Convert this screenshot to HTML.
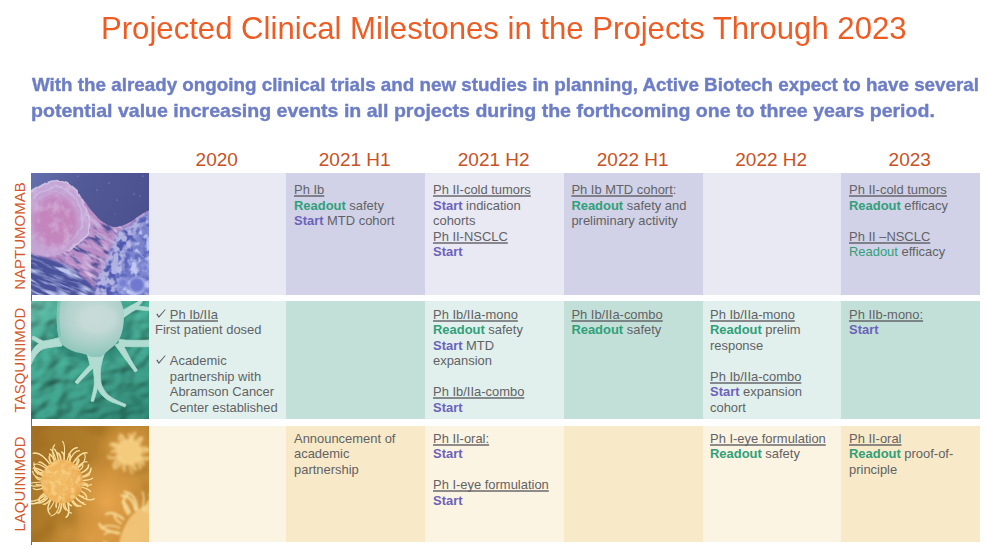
<!DOCTYPE html>
<html>
<head>
<meta charset="utf-8">
<title>Projected Clinical Milestones</title>
<style>
html,body{margin:0;padding:0;background:#fff;}
body{width:989px;height:549px;position:relative;overflow:hidden;font-family:"Liberation Sans",sans-serif;}
.abs{position:absolute;}
#title{position:absolute;left:101px;top:8px;font-size:31.5px;line-height:40px;color:#ee5c24;white-space:nowrap;transform-origin:0 0;transform:scaleX(0.988);}
.sub{position:absolute;left:31px;font-size:19px;line-height:24px;font-weight:bold;color:#6d7ec5;-webkit-text-stroke:0.4px #6d7ec5;white-space:nowrap;transform-origin:0 0;}
#sub1{top:72.7px;left:31.6px;transform:scaleX(0.9898);}
#sub2{top:98.5px;transform:scaleX(1.029);}
.yr{position:absolute;top:148.6px;height:22px;line-height:22px;font-size:19px;margin-left:-0.8px;color:#c9511f;text-align:center;white-space:nowrap;}
.cell{position:absolute;box-sizing:border-box;padding:9px 4px 0 8px;font-size:12.95px;line-height:15.5px;color:#626266;}
.cell u{text-decoration:underline;text-decoration-thickness:2px;text-underline-offset:1px;text-decoration-skip-ink:none;text-decoration-color:rgba(85,85,90,0.66);}
.r{color:#2fa07a;font-weight:bold;}
.rn{color:#2fa07a;}
.s{color:#6c62bc;font-weight:bold;}
.lbl{position:absolute;font-size:15px;line-height:16px;color:#d2572a;white-space:nowrap;transform-origin:0 0;transform:rotate(-90deg);text-align:center;}
.chk{position:absolute;display:block;}
.img{position:absolute;left:31px;width:118px;overflow:hidden;}
.img svg{display:block;}
</style>
</head>
<body>
<div id="title">Projected Clinical Milestones in the Projects Through 2023</div>
<div class="sub" id="sub1">With the already ongoing clinical trials and new studies in planning, Active Biotech expect to have several</div>
<div class="sub" id="sub2">potential value increasing events in all projects during the forthcoming one to three years period.</div>

<!-- year headers -->
<div class="yr" style="left:149px;width:137px;">2020</div>
<div class="yr" style="left:286px;width:139px;">2021 H1</div>
<div class="yr" style="left:425px;width:139px;">2021 H2</div>
<div class="yr" style="left:564px;width:139px;">2022 H1</div>
<div class="yr" style="left:703px;width:138px;">2022 H2</div>
<div class="yr" style="left:841px;width:139px;">2023</div>

<!-- row labels -->
<div class="lbl" style="left:11.8px;top:297px;width:122px;">NAPTUMOMAB</div>
<div class="lbl" style="left:11.8px;top:419px;width:118px;">TASQUINIMOD</div>
<div class="lbl" style="left:11.8px;top:542px;width:116px;">LAQUINIMOD</div>

<!-- ROW 1 -->
<div class="cell" style="left:149px;top:173px;width:137px;height:122px;background:#e9e9f4;"></div>
<div class="cell" style="left:286px;top:173px;width:139px;height:122px;background:#d1d2e7;"><u>Ph Ib</u><br><span class="r">Readout</span> safety<br><span class="s">Start</span> MTD cohort</div>
<div class="cell" style="left:425px;top:173px;width:139px;height:122px;background:#e9e9f4;"><u>Ph II-cold tumors</u><br><span class="s">Start</span> indication<br>cohorts<br><u>Ph II-NSCLC</u><br><span class="s">Start</span></div>
<div class="cell" style="left:564px;top:173px;width:139px;height:122px;background:#d1d2e7;padding-left:7.4px;"><u>Ph Ib MTD cohort</u>:<br><span class="r">Readout</span> safety and<br>preliminary activity</div>
<div class="cell" style="left:703px;top:173px;width:138px;height:122px;background:#e9e9f4;padding-left:7px;"></div>
<div class="cell" style="left:841px;top:173px;width:139px;height:122px;background:#d1d2e7;"><u>Ph II-cold tumors</u><br><span class="r">Readout</span> efficacy<br><br><u>Ph II &ndash;NSCLC</u><br><span class="rn">Readout</span> efficacy</div>

<!-- ROW 2 -->
<div class="cell" style="left:149px;top:301px;width:137px;height:118px;background:#e1f0ec;padding-top:5.6px;padding-left:6px;"><svg class="chk" style="left:6.5px;top:7.6px;" width="10" height="10" viewBox="0 0 10 10"><path d="M0.3,5.3 L1.6,4.6 L2.8,7.3 L9.0,0.3 L9.6,0.8 L2.8,9.1 Z" fill="#5a5a60"/></svg><svg class="chk" style="left:6.5px;top:54.1px;" width="10" height="10" viewBox="0 0 10 10"><path d="M0.3,5.3 L1.6,4.6 L2.8,7.3 L9.0,0.3 L9.6,0.8 L2.8,9.1 Z" fill="#5a5a60"/></svg><span style="padding-left:14.8px;"><u>Ph Ib/IIa</u></span><br>First patient dosed<br><br><div style="padding-left:14.8px;">Academic<br>partnership with<br>Abramson Cancer<br>Center established</div></div>
<div class="cell" style="left:286px;top:301px;width:139px;height:118px;background:#c2e0d8;padding-top:5.6px;"></div>
<div class="cell" style="left:425px;top:301px;width:139px;height:118px;background:#e1f0ec;padding-top:5.6px;"><u>Ph Ib/IIa-mono</u><br><span class="r">Readout</span> safety<br><span class="s">Start</span> MTD<br>expansion<br><br><u>Ph Ib/IIa-combo</u><br><span class="s">Start</span></div>
<div class="cell" style="left:564px;top:301px;width:139px;height:118px;background:#c2e0d8;padding-top:5.6px;padding-left:7.4px;"><u>Ph Ib/IIa-combo</u><br><span class="r">Readout</span> safety</div>
<div class="cell" style="left:703px;top:301px;width:138px;height:118px;background:#e1f0ec;padding-top:5.6px;padding-left:7px;"><u>Ph Ib/IIa-mono</u><br><span class="r">Readout</span> prelim<br>response<br><br><u>Ph Ib/IIa-combo</u><br><span class="s">Start</span> expansion<br>cohort</div>
<div class="cell" style="left:841px;top:301px;width:139px;height:118px;background:#c2e0d8;padding-top:5.6px;"><u>Ph IIb-mono:</u><br><span class="s">Start</span></div>

<!-- ROW 3 -->
<div class="cell" style="left:149px;top:426px;width:137px;height:116px;background:#fcf4e2;padding-top:4.5px;"></div>
<div class="cell" style="left:286px;top:426px;width:139px;height:116px;background:#f8eac8;padding-top:4.5px;">Announcement of<br>academic<br>partnership</div>
<div class="cell" style="left:425px;top:426px;width:139px;height:116px;background:#fcf4e2;padding-top:4.5px;"><u>Ph II-oral:</u><br><span class="s">Start</span><br><br><u>Ph I-eye formulation</u><br><span class="s">Start</span></div>
<div class="cell" style="left:564px;top:426px;width:139px;height:116px;background:#f8eac8;padding-top:4.5px;padding-left:7.4px;"></div>
<div class="cell" style="left:703px;top:426px;width:138px;height:116px;background:#fcf4e2;padding-top:4.5px;padding-left:7px;"><u>Ph I-eye formulation</u><br><span class="r">Readout</span> safety</div>
<div class="cell" style="left:841px;top:426px;width:139px;height:116px;background:#f8eac8;padding-top:4.5px;"><u>Ph II-oral</u><br><span class="r">Readout</span> proof-of-<br>principle</div>

<!-- IMAGES -->
<div class="img" id="img1" style="top:173px;height:122px;background:#565c9c;"><svg width="118" height="122" viewBox="0 0 118 122">
<defs>
<linearGradient id="a1" x1="0" y1="0" x2="1" y2="0.5"><stop offset="0" stop-color="#6570ae"/><stop offset="0.35" stop-color="#535a98"/><stop offset="1" stop-color="#4a4f8c"/></linearGradient>
<filter color-interpolation-filters="sRGB" id="b1" x="-20%" y="-20%" width="140%" height="140%"><feGaussianBlur stdDeviation="0.8"/></filter>
<filter color-interpolation-filters="sRGB" id="b2" x="-30%" y="-30%" width="160%" height="160%"><feGaussianBlur stdDeviation="2"/></filter>
<filter color-interpolation-filters="sRGB" id="b3" x="-30%" y="-30%" width="160%" height="160%"><feGaussianBlur stdDeviation="3.5"/></filter>
<!-- light streaks -->
<filter color-interpolation-filters="sRGB" id="t1" x="0" y="0" width="100%" height="100%"><feTurbulence type="fractalNoise" baseFrequency="0.04 0.24" numOctaves="3" seed="4"/><feColorMatrix type="matrix" values="0 0 0 0 0.74  0 0 0 0 0.77  0 0 0 0 0.93  3.8 0 0 0 -1.78"/></filter>
<!-- lavender streaks on pink -->
<filter color-interpolation-filters="sRGB" id="t6" x="0" y="0" width="100%" height="100%"><feTurbulence type="fractalNoise" baseFrequency="0.05 0.22" numOctaves="3" seed="31"/><feColorMatrix type="matrix" values="0 0 0 0 0.84  0 0 0 0 0.76  0 0 0 0 0.90  0 3.6 0 0 -1.7"/></filter>
<!-- dark streaks -->
<filter color-interpolation-filters="sRGB" id="t5" x="0" y="0" width="100%" height="100%"><feTurbulence type="fractalNoise" baseFrequency="0.07 0.2" numOctaves="3" seed="14"/><feColorMatrix type="matrix" values="0 0 0 0 0.30  0 0 0 0 0.31  0 0 0 0 0.58  0 0 4.4 0 -2.15"/></filter>
<!-- dark blobs -->
<filter color-interpolation-filters="sRGB" id="t2" x="0" y="0" width="100%" height="100%"><feTurbulence type="fractalNoise" baseFrequency="0.16" numOctaves="2" seed="9"/><feColorMatrix type="matrix" values="0 0 0 0 0.31  0 0 0 0 0.35  0 0 0 0 0.70  0 5.0 0 0 -2.25"/></filter>
<filter color-interpolation-filters="sRGB" id="t7" x="0" y="0" width="100%" height="100%"><feTurbulence type="fractalNoise" baseFrequency="0.13" numOctaves="3" seed="44"/><feColorMatrix type="matrix" values="0 0 0 0 0.75  0 0 0 0 0.78  0 0 0 0 0.95  4.2 0 0 0 -1.95"/></filter>
<!-- ridges inside pink cell -->
<filter color-interpolation-filters="sRGB" id="t4" x="0" y="0" width="100%" height="100%"><feTurbulence type="fractalNoise" baseFrequency="0.1" numOctaves="3" seed="2"/><feColorMatrix type="matrix" values="0 0 0 0 0.84  0 0 0 0 0.74  0 0 0 0 0.89  0 2.8 0 0 -1.28"/></filter>
<filter color-interpolation-filters="sRGB" id="d1" x="-10%" y="-10%" width="120%" height="120%"><feTurbulence type="fractalNoise" baseFrequency="0.1" numOctaves="2" seed="5" result="n"/><feDisplacementMap in="SourceGraphic" in2="n" scale="4" xChannelSelector="R" yChannelSelector="G"/><feGaussianBlur stdDeviation="0.5"/></filter>
<clipPath id="c0"><path d="M0,50 L52,26 C57,33 62,40 68,46 C74,51 80,54.5 86,54 C93,53 100,49 106,44.5 C110,41.5 114,39 118,37.5 L118,122 L0,122Z"/></clipPath>
<clipPath id="c3"><path d="M0,19 C5,16 9,13 14,10.5 C18,8.5 22,7.5 26,7.5 C33,8 39,11.5 44.5,17 C49.5,23 53,30 56,38 C59,45 59.5,53 56,61 C52,68 44,73 36,78 C28,82 18,85 10,83 C6,82 3,80 0,78Z"/></clipPath>
<mask id="m1"><path d="M-4,79 C6,83 16,84 24,87.5 C36,92 48,100 58,109 C62,113 65,118 67,126 L-4,126Z" fill="#fff" filter="url(#b1)"/></mask>
<mask id="m2"><path d="M122,34 C112,40 106,46 100,51 C93,55 88,57 84,64 C80,74 77,84 72,94 C67,103 62,110 64,126 L122,126Z" fill="#fff" filter="url(#b2)"/></mask>
<mask id="m4"><rect width="118" height="122" fill="#555"/><path d="M40,40 L70,44 L90,60 L80,100 L60,115 L40,95 L30,80Z" fill="#fff" filter="url(#b3)"/></mask>
<mask id="m3"><path d="M122,30 L122,126 L84,126 C88,112 86,100 92,88 C96,78 100,66 108,56Z" fill="#fff" filter="url(#b3)"/></mask>
</defs>
<rect width="118" height="122" fill="url(#a1)"/>
<g fill="#c3c8ec" opacity="0.75"><circle cx="78" cy="10" r="0.6"/><circle cx="103" cy="21" r="0.6"/><circle cx="86" cy="27" r="0.5"/><circle cx="112" cy="3" r="0.6"/><circle cx="66" cy="17" r="0.5"/><circle cx="47" cy="3" r="0.5"/><circle cx="109" cy="23" r="0.5"/><circle cx="84" cy="41" r="0.4"/></g>
<g clip-path="url(#c0)">
<!-- pink zone base -->
<rect width="118" height="122" fill="#b98cc6"/>
<g mask="url(#m4)"><rect x="-40" y="-40" width="200" height="200" filter="url(#t5)" transform="rotate(36 60 70)"/></g>
<rect x="-40" y="-40" width="200" height="200" filter="url(#t6)" transform="rotate(33 60 70)"/>
<!-- lower-left fibrous -->
<g mask="url(#m1)"><rect width="118" height="122" fill="#4b529c"/><rect x="-40" y="-40" width="200" height="200" filter="url(#t1)" transform="rotate(24 30 100)"/></g>
<!-- right mass -->
<g mask="url(#m2)"><rect width="118" height="122" fill="#b3b3e2"/><rect width="118" height="122" filter="url(#t2)"/>
<g mask="url(#m3)"><rect width="118" height="122" fill="#6a73c6" opacity="0.75"/><rect width="118" height="122" filter="url(#t7)"/></g>
</g>
</g>
<circle cx="106" cy="112" r="8" fill="#7078d0" stroke="#b9c0ee" stroke-width="1.4" filter="url(#b1)"/>
<circle cx="92" cy="110" r="5" fill="#7880d4" stroke="#b9c0ee" stroke-width="1" filter="url(#b1)"/>
<circle cx="114" cy="95" r="4" fill="#7880d4" stroke="#b9c0ee" stroke-width="0.8" filter="url(#b1)"/>
<!-- pink cell -->
<g filter="url(#d1)">
<path d="M-4,21 C4,17 9,13 14,10.5 C18,8.5 22,7.5 26,7.5 C33,8 39,11.5 44.5,17 C49.5,23 53,30 56,38 C59,45 59.5,53 56,61 C52,68 44,73 36,78 C28,82 18,85 10,83 C6,82 3,80 -4,78Z" fill="#c4a5d6"/>
</g>
<g filter="url(#d1)" fill="none" stroke="#d6cdea" opacity="0.8"><path d="M0,19 C5,16 9,13 14,10.5 C18,8.5 22,7.5 26,7.5 C33,8 39,11.5 44.5,17 C49.5,23 53,30 56,38 C59,45 59.5,53 56,61 C52,68 44,73 36,78" stroke-width="1.6"/><path d="M2,25 C8,19 16,14 25,13.5 C34,14 41,20 46,28 C51,36 53,46 50,55 C47,63 40,69 32,73" stroke-width="1.2" opacity="0.8"/><path d="M3,31 C9,24 17,19.5 25,19.5 C33,20 39,25 43,32 C47,39 48,47 45,54 C42,61 36,66 29,69" stroke-width="1" opacity="0.6"/></g>
<g clip-path="url(#c3)">
<ellipse cx="24" cy="49" rx="23" ry="27" fill="#c386be" filter="url(#b3)"/>
<ellipse cx="26" cy="49" rx="16" ry="19" fill="#c485bd" filter="url(#b2)"/>
<rect width="70" height="90" filter="url(#t4)" opacity="0.6"/>
</g>
</svg></div>
<div class="img" id="img2" style="top:301px;height:118px;background:#3a9283;"><svg width="118" height="118" viewBox="0 0 118 118">
<defs>
<linearGradient id="g1" x1="0.1" y1="0" x2="0.6" y2="1"><stop offset="0" stop-color="#9adccd" stop-opacity="0.36"/><stop offset="0.4" stop-color="#3a9585" stop-opacity="0"/><stop offset="1" stop-color="#0a4a3c" stop-opacity="0.3"/></linearGradient>
<radialGradient id="g2" cx="0.55" cy="0.3" r="0.7"><stop offset="0" stop-color="#c6dad8"/><stop offset="0.55" stop-color="#b5d3ce"/><stop offset="1" stop-color="#8cc6ba"/></radialGradient>
<filter color-interpolation-filters="sRGB" id="gb" x="-20%" y="-20%" width="140%" height="140%"><feGaussianBlur stdDeviation="0.6"/></filter>
<filter color-interpolation-filters="sRGB" id="gb2" x="-20%" y="-20%" width="140%" height="140%"><feGaussianBlur stdDeviation="2.4"/></filter>
<filter color-interpolation-filters="sRGB" id="gl" x="0" y="0" width="100%" height="100%">
<feTurbulence type="fractalNoise" baseFrequency="0.05 0.075" numOctaves="2" seed="7"/>
<feColorMatrix type="matrix" values="0 0 0 0 0  0 0 0 0 0  0 0 0 0 0  1 0 0 0 0" result="h"/>
<feGaussianBlur in="h" stdDeviation="1.4" result="hb"/>
<feDiffuseLighting in="hb" surfaceScale="5" diffuseConstant="1.1" lighting-color="#43a48e"><feDistantLight azimuth="235" elevation="64"/></feDiffuseLighting>
</filter>
</defs>
<rect width="118" height="118" fill="#3a9585"/>
<rect x="-40" y="-40" width="200" height="200" filter="url(#gl)" transform="rotate(-20 59 59)"/>
<rect width="118" height="118" fill="url(#g1)"/>
<!-- shadow under body -->
<ellipse cx="62" cy="34" rx="40" ry="28" fill="#1f6e61" opacity="0.4" filter="url(#gb2)"/>
<!-- dendrites -->
<g fill="#b0dcd1" stroke="#b0dcd1" stroke-width="0.8" stroke-linejoin="round" filter="url(#gb)">
<!-- left arm main -->
<path d="M30,36 C24,38 18,39 13,40 C7,42 2,47 -1,54 L-1,66 C2,58 6,51 12,48 C18,46 24,46 31,45Z"/>
<path d="M14,41 C10,39 6,37 2,35 L1,38 C5,40 8,43 12,45Z"/>
<!-- stem + branches -->
<path d="M55,50 C57,56 58,60 59,64 C54,69 49,75 44,81 L46.5,83 C52,77 57,72 62,67 C63,74 64,80 63,86 C62,91 61,96 60,100 L62.5,100.5 C64,96 65.5,91 66.5,87 C69,93 74,98 81,101 C86,103 90,104 94,106 L95,103.5 C91,102 87,100 83,98 C76,94 72,89 70,82 C69,76 69,70 70,65 C71,60 72,56 74,51Z"/>
<!-- right-down arm -->
<path d="M84,44 C90,52 97,62 104,71 L106.5,69.5 C100,60 95,50 91,41Z"/>
<!-- right arm -->
<path d="M88,38.5 C98,39.5 108,39.5 119,39 L119,45.5 C108,46 98,46 88,45Z"/>
<!-- top right arm -->
<path d="M89,11 C94,8 99,5 103,3 C106,1.5 108,0 109,-2 L112,-1 C111,1.5 109.5,3.5 107.5,5 C111,5.5 115,6 119,6.5 L119,9.5 C114,9.5 109,9 105,8.5 C100,11 96,14 91,18Z"/>
</g>
<!-- body -->
<path d="M27.5,-2 C25,10 25,26 28,38 C30,44 36,48 43,50.5 C50,52.5 56,53 60,56 L70,56 C73,53 78,49 84,44 C90,38 93,28 93,14 C93,8 91,3 89,-2 Z" fill="url(#g2)" filter="url(#gb)"/>
<path d="M29,-2 C26.5,10 26.5,24 29,36" fill="none" stroke="#78c2b3" stroke-width="2.6" opacity="0.8" filter="url(#gb)"/>
<ellipse cx="66" cy="18" rx="20" ry="15" fill="#cbdddb" opacity="0.6" filter="url(#gb2)"/>
</svg></div>
<div class="img" id="img3" style="top:426px;height:116px;background:#b9822f;"><svg width="118" height="116" viewBox="0 0 118 116">
<defs>
<linearGradient id="o1" x1="0" y1="0.25" x2="1" y2="0.75"><stop offset="0" stop-color="#a87627"/><stop offset="0.4" stop-color="#b27e2b"/><stop offset="1" stop-color="#d0963e"/></linearGradient>
<radialGradient id="o2" cx="0.5" cy="0.5" r="0.5"><stop offset="0" stop-color="#e8a64e" stop-opacity="1"/><stop offset="0.6" stop-color="#de9c44" stop-opacity="0.6"/><stop offset="1" stop-color="#d8963f" stop-opacity="0"/></radialGradient>
<radialGradient id="o3" cx="0.4" cy="0.45" r="0.62"><stop offset="0" stop-color="#f2bd68"/><stop offset="0.75" stop-color="#eeb25a"/><stop offset="1" stop-color="#e3a246"/></radialGradient>
<filter color-interpolation-filters="sRGB" id="ob1" x="-30%" y="-30%" width="160%" height="160%"><feGaussianBlur stdDeviation="0.45"/></filter>
<filter color-interpolation-filters="sRGB" id="ob2" x="-30%" y="-30%" width="160%" height="160%"><feGaussianBlur stdDeviation="1.5"/></filter>
<filter color-interpolation-filters="sRGB" id="ob3" x="-30%" y="-30%" width="160%" height="160%"><feGaussianBlur stdDeviation="0.9"/></filter>
<filter color-interpolation-filters="sRGB" id="ot1" x="0" y="0" width="100%" height="100%"><feTurbulence type="fractalNoise" baseFrequency="0.04" numOctaves="2" seed="11"/><feColorMatrix type="matrix" values="0 0 0 0 0.60  0 0 0 0 0.40  0 0 0 0 0.11  3.0 0 0 0 -1.3"/></filter>
<filter color-interpolation-filters="sRGB" id="ot2" x="0" y="0" width="100%" height="100%"><feTurbulence type="fractalNoise" baseFrequency="0.2" numOctaves="2" seed="5"/><feColorMatrix type="matrix" values="0 0 0 0 0.98  0 0 0 0 0.84  0 0 0 0 0.56  0 3.4 0 0 -1.5"/></filter>
<clipPath id="oc1"><ellipse cx="31" cy="55.5" rx="21" ry="22"/></clipPath>
</defs>
<rect width="118" height="116" fill="url(#o1)"/>
<rect width="118" height="116" filter="url(#ot1)" opacity="0.45"/>
<ellipse cx="76" cy="76" rx="40" ry="50" fill="url(#o2)"/>
<ellipse cx="60" cy="112" rx="44" ry="22" fill="url(#o2)" opacity="0.6"/>
<ellipse cx="96" cy="22" rx="32" ry="28" fill="url(#o2)" opacity="0.75"/>
<!-- cell 2 (blurred, top right) -->
<g filter="url(#ob2)">
<ellipse cx="98" cy="26" rx="12.5" ry="13" fill="#f4ca7c"/>
<g fill="none" stroke-linecap="round" stroke="#f7d48a"><path d="M109.0,25.9 C113.4,25.9 117.3,25.3 118.2,23.5" stroke-width="2.19"/><path d="M108.0,30.8 C112.1,32.7 116.1,33.8 118.1,31.8" stroke-width="2.74"/><path d="M107.0,32.5 C110.0,34.6 112.5,36.8 112.4,38.4" stroke-width="2.44"/><path d="M105.4,34.5 C108.1,37.4 110.0,40.4 109.0,42.5" stroke-width="2.07"/><path d="M101.4,37.0 C102.4,40.2 103.6,42.9 104.7,43.3" stroke-width="2.66"/><path d="M98.7,37.5 C99.0,42.1 99.8,46.3 101.5,47.2" stroke-width="1.69"/><path d="M93.9,36.7 C92.7,39.7 92.1,42.7 93.7,44.1" stroke-width="2.58"/><path d="M91.2,35.0 C88.2,38.8 85.2,41.9 83.4,41.8" stroke-width="2.66"/><path d="M89.0,32.6 C85.5,35.1 82.6,37.6 82.7,39.4" stroke-width="2.53"/><path d="M87.8,30.4 C83.5,32.2 79.2,32.9 77.1,30.4" stroke-width="2.35"/><path d="M87.0,25.2 C84.1,25.0 81.6,25.0 80.9,25.7" stroke-width="2.60"/><path d="M87.5,22.6 C84.2,21.5 81.5,20.0 81.4,17.6" stroke-width="1.94"/><path d="M88.6,20.1 C85.2,18.1 81.9,17.0 79.8,18.8" stroke-width="2.72"/><path d="M91.0,17.1 C89.1,14.7 87.7,12.3 88.5,10.7" stroke-width="2.23"/><path d="M93.9,15.3 C92.5,11.9 90.9,9.0 89.4,8.7" stroke-width="2.53"/><path d="M99.3,14.6 C99.6,11.8 99.5,9.3 98.0,8.5" stroke-width="2.26"/><path d="M100.6,14.8 C101.5,11.2 102.6,8.0 103.8,7.4" stroke-width="2.55"/><path d="M104.3,16.6 C106.5,13.5 109.1,11.1 111.7,11.9" stroke-width="1.99"/><path d="M106.4,18.6 C108.9,16.6 110.7,14.3 110.0,12.3" stroke-width="2.43"/><path d="M108.6,22.8 C112.0,21.8 115.3,21.6 116.8,23.8" stroke-width="2.57"/></g>
</g>
<!-- cell 3 (bottom right) -->
<g filter="url(#ob3)">
<path d="M88,118 C90,106 95,95 102,88 C108,82 113,80 120,78 L120,118Z" fill="#f3c87c" opacity="0.9"/>
<g fill="none" stroke-linecap="round" stroke="#f9dc9a"><path d="M90.9,127.8 C84.4,132.2 77.8,134.9 73.5,131.7" stroke-width="1.56"/><path d="M88.2,119.2 C81.8,120.8 75.8,120.9 73.1,116.2" stroke-width="2.19"/><path d="M88.0,118.4 C82.7,119.7 77.7,119.8 75.7,116.6" stroke-width="1.76"/><path d="M87.8,107.2 C78.2,105.5 69.9,102.8 68.5,98.0" stroke-width="2.47"/><path d="M87.9,106.6 C81.6,105.4 75.8,105.3 73.7,108.5" stroke-width="1.58"/><path d="M88.8,102.0 C81.3,99.2 74.0,98.2 70.4,102.8" stroke-width="1.50"/><path d="M90.3,97.5 C86.0,95.0 82.8,91.8 83.8,87.9" stroke-width="1.89"/><path d="M92.6,93.3 C86.6,88.1 80.2,84.8 74.8,88.3" stroke-width="2.03"/><path d="M97.0,88.0 C92.6,81.2 90.6,74.0 96.1,68.4" stroke-width="2.22"/><path d="M99.0,86.4 C96.4,80.9 93.6,76.3 91.5,75.9" stroke-width="2.34"/><path d="M104.3,84.0 C102.9,76.2 99.2,69.7 90.5,69.6" stroke-width="2.25"/><path d="M106.3,83.6 C105.6,74.7 102.4,67.1 93.3,65.8" stroke-width="2.08"/><path d="M111.5,83.9 C112.9,75.9 113.5,68.6 111.3,66.3" stroke-width="1.54"/><path d="M113.8,84.7 C116.6,75.4 121.7,67.9 131.7,68.7" stroke-width="2.06"/><path d="M117.1,86.5 C120.7,79.4 122.4,72.5 118.3,68.5" stroke-width="1.50"/><path d="M120.9,89.8 C126.3,83.2 129.4,76.0 125.0,70.0" stroke-width="1.57"/></g>
</g>
<!-- main cell -->
<g filter="url(#ob1)">
<g fill="none" stroke-linecap="round" stroke="#fbe3a6"><path d="M50.5,54.6 C55.7,54.4 60.4,53.8 61.5,52.2" stroke-width="1.32"/><path d="M50.3,58.6 C55.0,59.3 59.3,59.6 60.5,58.6" stroke-width="1.26"/><path d="M49.8,60.9 C54.6,62.2 58.7,63.7 59.4,65.4" stroke-width="1.34"/><path d="M46.4,68.1 C52.4,72.8 58.7,75.8 63.2,72.7" stroke-width="1.23"/><path d="M43.8,70.9 C46.9,74.5 50.2,77.3 52.5,76.6" stroke-width="1.07"/><path d="M44.1,70.7 C48.2,75.1 52.2,78.7 54.5,78.4" stroke-width="1.35"/><path d="M41.0,73.1 C43.5,77.4 46.6,80.7 50.1,80.0" stroke-width="1.38"/><path d="M36.4,75.2 C38.3,82.1 38.9,88.5 35.2,91.2" stroke-width="1.58"/><path d="M33.4,75.8 C34.2,81.5 36.1,86.4 40.6,87.1" stroke-width="1.13"/><path d="M28.9,75.9 C28.1,82.9 25.8,89.0 19.9,90.0" stroke-width="1.16"/><path d="M23.5,74.4 C21.6,79.1 19.4,83.1 17.3,83.5" stroke-width="1.20"/><path d="M20.5,72.8 C17.0,78.4 15.2,84.1 19.0,88.3" stroke-width="1.35"/><path d="M17.9,70.7 C13.8,75.2 9.3,78.3 5.3,76.5" stroke-width="1.35"/><path d="M16.7,69.5 C10.4,75.4 3.7,79.5 -1.2,77.0" stroke-width="1.41"/><path d="M15.6,68.1 C9.3,73.0 3.1,76.5 -0.6,74.7" stroke-width="1.23"/><path d="M12.5,62.1 C8.2,63.6 4.1,64.3 2.4,62.4" stroke-width="1.37"/><path d="M11.8,59.3 C6.4,60.3 1.4,60.7 -0.2,59.1" stroke-width="1.14"/><path d="M11.5,56.0 C2.7,56.3 -5.1,57.4 -7.0,60.6" stroke-width="1.24"/><path d="M11.7,52.8 C6.5,52.1 2.1,50.2 1.6,45.4" stroke-width="1.16"/><path d="M12.7,48.5 C6.8,46.3 2.1,42.8 2.9,36.5" stroke-width="1.07"/><path d="M13.7,46.1 C8.7,43.5 4.0,41.5 2.3,42.2" stroke-width="1.52"/><path d="M15.6,42.9 C11.0,39.3 6.3,36.8 3.2,38.6" stroke-width="1.22"/><path d="M19.5,38.9 C14.1,31.5 8.0,25.8 2.4,27.3" stroke-width="1.54"/><path d="M24.2,36.3 C21.5,28.9 20.2,21.9 23.7,18.8" stroke-width="1.23"/><path d="M25.6,35.8 C23.8,29.6 21.7,24.2 19.5,23.3" stroke-width="1.11"/><path d="M27.6,35.3 C26.6,29.2 25.1,23.9 22.9,22.9" stroke-width="1.34"/><path d="M33.0,35.1 C33.9,26.0 34.0,17.7 31.5,15.4" stroke-width="1.11"/><path d="M35.8,35.6 C37.6,28.2 40.8,22.0 46.4,21.7" stroke-width="1.28"/><path d="M38.0,36.4 C40.5,29.9 43.9,24.6 48.4,24.7" stroke-width="1.18"/><path d="M41.4,38.1 C45.8,31.2 50.8,25.8 56.0,26.9" stroke-width="1.42"/><path d="M45.5,41.7 C49.6,38.0 53.6,35.2 55.8,35.8" stroke-width="1.33"/><path d="M46.3,42.8 C51.9,38.4 55.9,33.2 53.7,27.9" stroke-width="1.14"/><path d="M48.9,47.5 C53.9,45.4 57.8,42.6 57.6,39.0" stroke-width="1.48"/><path d="M50.0,50.9 C55.5,49.7 60.0,47.2 60.1,42.2" stroke-width="1.51"/></g><g fill="none" stroke-linecap="round" stroke="#f7d892"><path d="M50.5,56.7 C53.4,56.9 56.0,57.4 56.6,58.7" stroke-width="1.30"/><path d="M50.3,58.1 C53.4,58.5 56.2,59.2 56.7,60.3" stroke-width="1.79"/><path d="M48.6,64.3 C52.9,66.4 56.3,69.2 55.7,72.9" stroke-width="1.58"/><path d="M46.4,68.0 C48.8,69.8 51.1,71.2 52.4,70.6" stroke-width="1.69"/><path d="M40.1,73.6 C42.1,77.3 44.4,80.3 46.6,80.1" stroke-width="1.83"/><path d="M36.6,75.1 C37.3,77.6 38.5,79.5 40.4,79.6" stroke-width="1.94"/><path d="M32.2,76.0 C32.4,79.7 33.1,83.0 34.9,83.7" stroke-width="1.82"/><path d="M30.6,76.0 C30.5,81.2 29.6,85.9 27.1,87.0" stroke-width="1.91"/><path d="M25.9,75.3 C25.2,78.0 24.8,80.4 25.3,81.1" stroke-width="1.78"/><path d="M20.1,72.5 C17.6,76.0 14.9,78.8 12.2,78.2" stroke-width="1.57"/><path d="M16.3,68.9 C14.2,70.7 12.8,72.6 13.5,74.3" stroke-width="1.89"/><path d="M14.7,66.7 C10.8,69.2 7.7,72.0 8.0,74.4" stroke-width="2.02"/><path d="M11.8,58.8 C8.9,59.3 6.3,59.4 5.5,58.5" stroke-width="1.70"/><path d="M11.5,54.2 C8.3,54.0 5.4,53.2 4.8,50.9" stroke-width="1.33"/><path d="M12.4,49.5 C7.5,48.0 3.5,45.7 3.4,42.0" stroke-width="2.02"/><path d="M13.0,47.6 C10.5,46.6 8.0,46.1 6.7,47.7" stroke-width="1.94"/><path d="M16.7,41.5 C13.3,38.3 10.0,35.8 8.2,36.2" stroke-width="1.68"/><path d="M20.8,38.0 C18.7,34.6 17.4,31.2 19.0,29.2" stroke-width="1.73"/><path d="M24.0,36.4 C22.3,32.0 20.4,28.3 18.4,27.9" stroke-width="1.51"/><path d="M29.9,35.0 C29.7,31.2 28.8,27.8 26.3,27.1" stroke-width="2.05"/><path d="M33.1,35.1 C33.5,31.0 33.2,27.2 30.8,26.0" stroke-width="1.66"/><path d="M38.1,36.4 C39.4,32.9 40.0,29.5 38.2,27.9" stroke-width="2.02"/><path d="M43.7,40.0 C45.7,37.6 47.0,35.2 45.9,33.3" stroke-width="1.39"/><path d="M44.4,40.6 C46.9,37.9 48.6,35.1 47.6,33.0" stroke-width="1.64"/><path d="M47.6,44.7 C50.3,43.1 52.4,41.0 51.8,38.7" stroke-width="1.41"/><path d="M50.1,51.6 C54.4,50.8 58.1,49.6 58.7,47.9" stroke-width="1.39"/></g>
<ellipse cx="31" cy="55.5" rx="21" ry="22" fill="url(#o3)"/>
</g>
<g clip-path="url(#oc1)"><rect width="60" height="90" filter="url(#ot2)" opacity="0.7"/></g>
</svg></div>
<!-- 1px continuity strips at left edge of images -->
<div class="abs" style="left:31px;top:295px;width:1px;height:3px;background:#5a5fa2;"></div>
<div class="abs" style="left:31px;top:298px;width:1px;height:3px;background:#2f8c7b;"></div>
<div class="abs" style="left:31px;top:419px;width:1px;height:3px;background:#2d8575;"></div>
<div class="abs" style="left:31px;top:422px;width:1px;height:4px;background:#96702a;"></div>
<div class="abs" style="left:31px;top:542px;width:1px;height:3px;background:#8c6824;"></div>
</body>
</html>
